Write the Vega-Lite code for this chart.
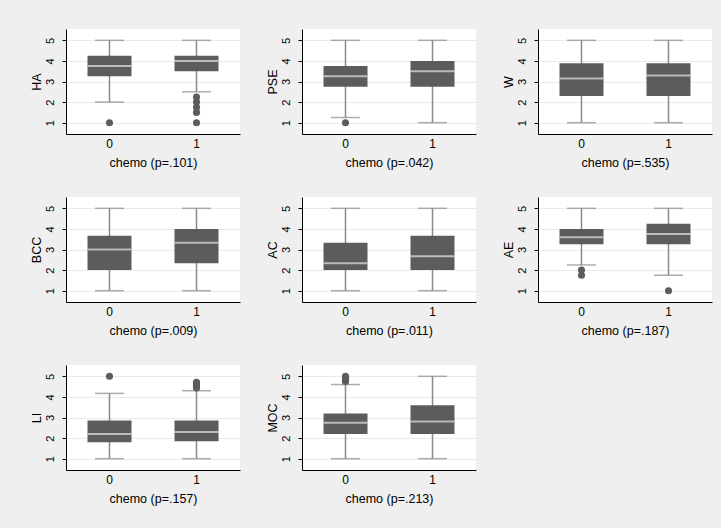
{
"$schema": "https://vega.github.io/schema/vega-lite/v6.json",
"background": "#efefef",
"padding": {"left": 30, "top": 29, "right": 10, "bottom": 24},
"datasets": {
"box": [
{"var":"HA","chemo":0,"lo":2,"q1":3.25,"med":3.75,"q3":4.25,"hi":5},
{"var":"HA","chemo":1,"lo":2.5,"q1":3.5,"med":4,"q3":4.25,"hi":5},
{"var":"HA","chemo":0,"value":1},
{"var":"HA","chemo":1,"value":2.25},
{"var":"HA","chemo":1,"value":2},
{"var":"HA","chemo":1,"value":1.75},
{"var":"HA","chemo":1,"value":1.5},
{"var":"HA","chemo":1,"value":1},
{"var":"PSE","chemo":0,"lo":1.25,"q1":2.75,"med":3.25,"q3":3.75,"hi":5},
{"var":"PSE","chemo":1,"lo":1,"q1":2.75,"med":3.5,"q3":4,"hi":5},
{"var":"PSE","chemo":0,"value":1},
{"var":"W","chemo":0,"lo":1,"q1":2.3,"med":3.14,"q3":3.89,"hi":5},
{"var":"W","chemo":1,"lo":1,"q1":2.3,"med":3.29,"q3":3.89,"hi":5},
{"var":"BCC","chemo":0,"lo":1,"q1":2,"med":3,"q3":3.67,"hi":5},
{"var":"BCC","chemo":1,"lo":1,"q1":2.33,"med":3.33,"q3":4,"hi":5},
{"var":"AC","chemo":0,"lo":1,"q1":2,"med":2.33,"q3":3.33,"hi":5},
{"var":"AC","chemo":1,"lo":1,"q1":2,"med":2.67,"q3":3.67,"hi":5},
{"var":"AE","chemo":0,"lo":2.25,"q1":3.25,"med":3.6,"q3":4,"hi":5},
{"var":"AE","chemo":1,"lo":1.75,"q1":3.25,"med":3.75,"q3":4.25,"hi":5},
{"var":"AE","chemo":0,"value":2},
{"var":"AE","chemo":0,"value":1.75},
{"var":"AE","chemo":1,"value":1},
{"var":"LI","chemo":0,"lo":1,"q1":1.8,"med":2.2,"q3":2.86,"hi":4.17},
{"var":"LI","chemo":1,"lo":1,"q1":1.85,"med":2.3,"q3":2.86,"hi":4.3},
{"var":"LI","chemo":0,"value":5},
{"var":"LI","chemo":1,"value":4.43},
{"var":"LI","chemo":1,"value":4.5},
{"var":"LI","chemo":1,"value":4.57},
{"var":"LI","chemo":1,"value":4.67},
{"var":"LI","chemo":1,"value":4.71},
{"var":"MOC","chemo":0,"lo":1,"q1":2.2,"med":2.75,"q3":3.2,"hi":4.6},
{"var":"MOC","chemo":1,"lo":1,"q1":2.2,"med":2.8,"q3":3.6,"hi":5},
{"var":"MOC","chemo":0,"value":4.75},
{"var":"MOC","chemo":0,"value":4.8},
{"var":"MOC","chemo":0,"value":4.85},
{"var":"MOC","chemo":0,"value":4.9},
{"var":"MOC","chemo":0,"value":5}
]
},
"data": {"name": "box"},
"columns": 3,
"spacing": {"row": 28, "column": 26},
"concat": [
{"transform":[{"filter":"datum.var==='HA'"}],"width":174,"height":105,
"encoding":{"x":{"field":"chemo","type":"nominal","scale":{"type":"band","paddingInner":0,"paddingOuter":0},"title":"chemo (p=.101)"}},
"layer":[
{"transform":[{"filter":"isValid(datum.med)"}],"mark":{"type":"rule","color":"#8a8a8a","strokeWidth":1.5},"encoding":{"y":{"field":"lo","type":"quantitative","scale":{"domain":[0.45,5.55],"nice":false,"zero":false},"title":"HA"},"y2":{"field":"hi"}}},
{"transform":[{"filter":"isValid(datum.med)"}],"mark":{"type":"tick","color":"#8a8a8a","size":29,"thickness":1.5},"encoding":{"y":{"field":"lo","type":"quantitative","scale":{"domain":[0.45,5.55],"nice":false,"zero":false},"title":"HA"}}},
{"transform":[{"filter":"isValid(datum.med)"}],"mark":{"type":"tick","color":"#8a8a8a","size":29,"thickness":1.5},"encoding":{"y":{"field":"hi","type":"quantitative","scale":{"domain":[0.45,5.55],"nice":false,"zero":false},"title":"HA"}}},
{"transform":[{"filter":"isValid(datum.med)"}],"mark":{"type":"bar","color":"#5c5c5c","size":44},"encoding":{"y":{"field":"q1","type":"quantitative","scale":{"domain":[0.45,5.55],"nice":false,"zero":false},"title":"HA"},"y2":{"field":"q3"}}},
{"transform":[{"filter":"isValid(datum.med)"}],"mark":{"type":"tick","color":"#e4e4e4","size":44,"thickness":2},"encoding":{"y":{"field":"med","type":"quantitative","scale":{"domain":[0.45,5.55],"nice":false,"zero":false},"title":"HA"}}},
{"transform":[{"filter":"isValid(datum.value)"}],"mark":{"type":"circle","color":"#5c5c5c","size":50,"opacity":1},"encoding":{"y":{"field":"value","type":"quantitative","scale":{"domain":[0.45,5.55],"nice":false,"zero":false},"title":"HA"}}}
]},
{"transform":[{"filter":"datum.var==='PSE'"}],"width":174,"height":105,
"encoding":{"x":{"field":"chemo","type":"nominal","scale":{"type":"band","paddingInner":0,"paddingOuter":0},"title":"chemo (p=.042)"}},
"layer":[
{"transform":[{"filter":"isValid(datum.med)"}],"mark":{"type":"rule","color":"#8a8a8a","strokeWidth":1.5},"encoding":{"y":{"field":"lo","type":"quantitative","scale":{"domain":[0.45,5.55],"nice":false,"zero":false},"title":"PSE"},"y2":{"field":"hi"}}},
{"transform":[{"filter":"isValid(datum.med)"}],"mark":{"type":"tick","color":"#8a8a8a","size":29,"thickness":1.5},"encoding":{"y":{"field":"lo","type":"quantitative","scale":{"domain":[0.45,5.55],"nice":false,"zero":false},"title":"PSE"}}},
{"transform":[{"filter":"isValid(datum.med)"}],"mark":{"type":"tick","color":"#8a8a8a","size":29,"thickness":1.5},"encoding":{"y":{"field":"hi","type":"quantitative","scale":{"domain":[0.45,5.55],"nice":false,"zero":false},"title":"PSE"}}},
{"transform":[{"filter":"isValid(datum.med)"}],"mark":{"type":"bar","color":"#5c5c5c","size":44},"encoding":{"y":{"field":"q1","type":"quantitative","scale":{"domain":[0.45,5.55],"nice":false,"zero":false},"title":"PSE"},"y2":{"field":"q3"}}},
{"transform":[{"filter":"isValid(datum.med)"}],"mark":{"type":"tick","color":"#e4e4e4","size":44,"thickness":2},"encoding":{"y":{"field":"med","type":"quantitative","scale":{"domain":[0.45,5.55],"nice":false,"zero":false},"title":"PSE"}}},
{"transform":[{"filter":"isValid(datum.value)"}],"mark":{"type":"circle","color":"#5c5c5c","size":50,"opacity":1},"encoding":{"y":{"field":"value","type":"quantitative","scale":{"domain":[0.45,5.55],"nice":false,"zero":false},"title":"PSE"}}}
]},
{"transform":[{"filter":"datum.var==='W'"}],"width":174,"height":105,
"encoding":{"x":{"field":"chemo","type":"nominal","scale":{"type":"band","paddingInner":0,"paddingOuter":0},"title":"chemo (p=.535)"}},
"layer":[
{"transform":[{"filter":"isValid(datum.med)"}],"mark":{"type":"rule","color":"#8a8a8a","strokeWidth":1.5},"encoding":{"y":{"field":"lo","type":"quantitative","scale":{"domain":[0.45,5.55],"nice":false,"zero":false},"title":"W"},"y2":{"field":"hi"}}},
{"transform":[{"filter":"isValid(datum.med)"}],"mark":{"type":"tick","color":"#8a8a8a","size":29,"thickness":1.5},"encoding":{"y":{"field":"lo","type":"quantitative","scale":{"domain":[0.45,5.55],"nice":false,"zero":false},"title":"W"}}},
{"transform":[{"filter":"isValid(datum.med)"}],"mark":{"type":"tick","color":"#8a8a8a","size":29,"thickness":1.5},"encoding":{"y":{"field":"hi","type":"quantitative","scale":{"domain":[0.45,5.55],"nice":false,"zero":false},"title":"W"}}},
{"transform":[{"filter":"isValid(datum.med)"}],"mark":{"type":"bar","color":"#5c5c5c","size":44},"encoding":{"y":{"field":"q1","type":"quantitative","scale":{"domain":[0.45,5.55],"nice":false,"zero":false},"title":"W"},"y2":{"field":"q3"}}},
{"transform":[{"filter":"isValid(datum.med)"}],"mark":{"type":"tick","color":"#e4e4e4","size":44,"thickness":2},"encoding":{"y":{"field":"med","type":"quantitative","scale":{"domain":[0.45,5.55],"nice":false,"zero":false},"title":"W"}}},
{"transform":[{"filter":"isValid(datum.value)"}],"mark":{"type":"circle","color":"#5c5c5c","size":50,"opacity":1},"encoding":{"y":{"field":"value","type":"quantitative","scale":{"domain":[0.45,5.55],"nice":false,"zero":false},"title":"W"}}}
]},
{"transform":[{"filter":"datum.var==='BCC'"}],"width":174,"height":105,
"encoding":{"x":{"field":"chemo","type":"nominal","scale":{"type":"band","paddingInner":0,"paddingOuter":0},"title":"chemo (p=.009)"}},
"layer":[
{"transform":[{"filter":"isValid(datum.med)"}],"mark":{"type":"rule","color":"#8a8a8a","strokeWidth":1.5},"encoding":{"y":{"field":"lo","type":"quantitative","scale":{"domain":[0.45,5.55],"nice":false,"zero":false},"title":"BCC"},"y2":{"field":"hi"}}},
{"transform":[{"filter":"isValid(datum.med)"}],"mark":{"type":"tick","color":"#8a8a8a","size":29,"thickness":1.5},"encoding":{"y":{"field":"lo","type":"quantitative","scale":{"domain":[0.45,5.55],"nice":false,"zero":false},"title":"BCC"}}},
{"transform":[{"filter":"isValid(datum.med)"}],"mark":{"type":"tick","color":"#8a8a8a","size":29,"thickness":1.5},"encoding":{"y":{"field":"hi","type":"quantitative","scale":{"domain":[0.45,5.55],"nice":false,"zero":false},"title":"BCC"}}},
{"transform":[{"filter":"isValid(datum.med)"}],"mark":{"type":"bar","color":"#5c5c5c","size":44},"encoding":{"y":{"field":"q1","type":"quantitative","scale":{"domain":[0.45,5.55],"nice":false,"zero":false},"title":"BCC"},"y2":{"field":"q3"}}},
{"transform":[{"filter":"isValid(datum.med)"}],"mark":{"type":"tick","color":"#e4e4e4","size":44,"thickness":2},"encoding":{"y":{"field":"med","type":"quantitative","scale":{"domain":[0.45,5.55],"nice":false,"zero":false},"title":"BCC"}}},
{"transform":[{"filter":"isValid(datum.value)"}],"mark":{"type":"circle","color":"#5c5c5c","size":50,"opacity":1},"encoding":{"y":{"field":"value","type":"quantitative","scale":{"domain":[0.45,5.55],"nice":false,"zero":false},"title":"BCC"}}}
]},
{"transform":[{"filter":"datum.var==='AC'"}],"width":174,"height":105,
"encoding":{"x":{"field":"chemo","type":"nominal","scale":{"type":"band","paddingInner":0,"paddingOuter":0},"title":"chemo (p=.011)"}},
"layer":[
{"transform":[{"filter":"isValid(datum.med)"}],"mark":{"type":"rule","color":"#8a8a8a","strokeWidth":1.5},"encoding":{"y":{"field":"lo","type":"quantitative","scale":{"domain":[0.45,5.55],"nice":false,"zero":false},"title":"AC"},"y2":{"field":"hi"}}},
{"transform":[{"filter":"isValid(datum.med)"}],"mark":{"type":"tick","color":"#8a8a8a","size":29,"thickness":1.5},"encoding":{"y":{"field":"lo","type":"quantitative","scale":{"domain":[0.45,5.55],"nice":false,"zero":false},"title":"AC"}}},
{"transform":[{"filter":"isValid(datum.med)"}],"mark":{"type":"tick","color":"#8a8a8a","size":29,"thickness":1.5},"encoding":{"y":{"field":"hi","type":"quantitative","scale":{"domain":[0.45,5.55],"nice":false,"zero":false},"title":"AC"}}},
{"transform":[{"filter":"isValid(datum.med)"}],"mark":{"type":"bar","color":"#5c5c5c","size":44},"encoding":{"y":{"field":"q1","type":"quantitative","scale":{"domain":[0.45,5.55],"nice":false,"zero":false},"title":"AC"},"y2":{"field":"q3"}}},
{"transform":[{"filter":"isValid(datum.med)"}],"mark":{"type":"tick","color":"#e4e4e4","size":44,"thickness":2},"encoding":{"y":{"field":"med","type":"quantitative","scale":{"domain":[0.45,5.55],"nice":false,"zero":false},"title":"AC"}}},
{"transform":[{"filter":"isValid(datum.value)"}],"mark":{"type":"circle","color":"#5c5c5c","size":50,"opacity":1},"encoding":{"y":{"field":"value","type":"quantitative","scale":{"domain":[0.45,5.55],"nice":false,"zero":false},"title":"AC"}}}
]},
{"transform":[{"filter":"datum.var==='AE'"}],"width":174,"height":105,
"encoding":{"x":{"field":"chemo","type":"nominal","scale":{"type":"band","paddingInner":0,"paddingOuter":0},"title":"chemo (p=.187)"}},
"layer":[
{"transform":[{"filter":"isValid(datum.med)"}],"mark":{"type":"rule","color":"#8a8a8a","strokeWidth":1.5},"encoding":{"y":{"field":"lo","type":"quantitative","scale":{"domain":[0.45,5.55],"nice":false,"zero":false},"title":"AE"},"y2":{"field":"hi"}}},
{"transform":[{"filter":"isValid(datum.med)"}],"mark":{"type":"tick","color":"#8a8a8a","size":29,"thickness":1.5},"encoding":{"y":{"field":"lo","type":"quantitative","scale":{"domain":[0.45,5.55],"nice":false,"zero":false},"title":"AE"}}},
{"transform":[{"filter":"isValid(datum.med)"}],"mark":{"type":"tick","color":"#8a8a8a","size":29,"thickness":1.5},"encoding":{"y":{"field":"hi","type":"quantitative","scale":{"domain":[0.45,5.55],"nice":false,"zero":false},"title":"AE"}}},
{"transform":[{"filter":"isValid(datum.med)"}],"mark":{"type":"bar","color":"#5c5c5c","size":44},"encoding":{"y":{"field":"q1","type":"quantitative","scale":{"domain":[0.45,5.55],"nice":false,"zero":false},"title":"AE"},"y2":{"field":"q3"}}},
{"transform":[{"filter":"isValid(datum.med)"}],"mark":{"type":"tick","color":"#e4e4e4","size":44,"thickness":2},"encoding":{"y":{"field":"med","type":"quantitative","scale":{"domain":[0.45,5.55],"nice":false,"zero":false},"title":"AE"}}},
{"transform":[{"filter":"isValid(datum.value)"}],"mark":{"type":"circle","color":"#5c5c5c","size":50,"opacity":1},"encoding":{"y":{"field":"value","type":"quantitative","scale":{"domain":[0.45,5.55],"nice":false,"zero":false},"title":"AE"}}}
]},
{"transform":[{"filter":"datum.var==='LI'"}],"width":174,"height":105,
"encoding":{"x":{"field":"chemo","type":"nominal","scale":{"type":"band","paddingInner":0,"paddingOuter":0},"title":"chemo (p=.157)"}},
"layer":[
{"transform":[{"filter":"isValid(datum.med)"}],"mark":{"type":"rule","color":"#8a8a8a","strokeWidth":1.5},"encoding":{"y":{"field":"lo","type":"quantitative","scale":{"domain":[0.45,5.55],"nice":false,"zero":false},"title":"LI"},"y2":{"field":"hi"}}},
{"transform":[{"filter":"isValid(datum.med)"}],"mark":{"type":"tick","color":"#8a8a8a","size":29,"thickness":1.5},"encoding":{"y":{"field":"lo","type":"quantitative","scale":{"domain":[0.45,5.55],"nice":false,"zero":false},"title":"LI"}}},
{"transform":[{"filter":"isValid(datum.med)"}],"mark":{"type":"tick","color":"#8a8a8a","size":29,"thickness":1.5},"encoding":{"y":{"field":"hi","type":"quantitative","scale":{"domain":[0.45,5.55],"nice":false,"zero":false},"title":"LI"}}},
{"transform":[{"filter":"isValid(datum.med)"}],"mark":{"type":"bar","color":"#5c5c5c","size":44},"encoding":{"y":{"field":"q1","type":"quantitative","scale":{"domain":[0.45,5.55],"nice":false,"zero":false},"title":"LI"},"y2":{"field":"q3"}}},
{"transform":[{"filter":"isValid(datum.med)"}],"mark":{"type":"tick","color":"#e4e4e4","size":44,"thickness":2},"encoding":{"y":{"field":"med","type":"quantitative","scale":{"domain":[0.45,5.55],"nice":false,"zero":false},"title":"LI"}}},
{"transform":[{"filter":"isValid(datum.value)"}],"mark":{"type":"circle","color":"#5c5c5c","size":50,"opacity":1},"encoding":{"y":{"field":"value","type":"quantitative","scale":{"domain":[0.45,5.55],"nice":false,"zero":false},"title":"LI"}}}
]},
{"transform":[{"filter":"datum.var==='MOC'"}],"width":174,"height":105,
"encoding":{"x":{"field":"chemo","type":"nominal","scale":{"type":"band","paddingInner":0,"paddingOuter":0},"title":"chemo (p=.213)"}},
"layer":[
{"transform":[{"filter":"isValid(datum.med)"}],"mark":{"type":"rule","color":"#8a8a8a","strokeWidth":1.5},"encoding":{"y":{"field":"lo","type":"quantitative","scale":{"domain":[0.45,5.55],"nice":false,"zero":false},"title":"MOC"},"y2":{"field":"hi"}}},
{"transform":[{"filter":"isValid(datum.med)"}],"mark":{"type":"tick","color":"#8a8a8a","size":29,"thickness":1.5},"encoding":{"y":{"field":"lo","type":"quantitative","scale":{"domain":[0.45,5.55],"nice":false,"zero":false},"title":"MOC"}}},
{"transform":[{"filter":"isValid(datum.med)"}],"mark":{"type":"tick","color":"#8a8a8a","size":29,"thickness":1.5},"encoding":{"y":{"field":"hi","type":"quantitative","scale":{"domain":[0.45,5.55],"nice":false,"zero":false},"title":"MOC"}}},
{"transform":[{"filter":"isValid(datum.med)"}],"mark":{"type":"bar","color":"#5c5c5c","size":44},"encoding":{"y":{"field":"q1","type":"quantitative","scale":{"domain":[0.45,5.55],"nice":false,"zero":false},"title":"MOC"},"y2":{"field":"q3"}}},
{"transform":[{"filter":"isValid(datum.med)"}],"mark":{"type":"tick","color":"#e4e4e4","size":44,"thickness":2},"encoding":{"y":{"field":"med","type":"quantitative","scale":{"domain":[0.45,5.55],"nice":false,"zero":false},"title":"MOC"}}},
{"transform":[{"filter":"isValid(datum.value)"}],"mark":{"type":"circle","color":"#5c5c5c","size":50,"opacity":1},"encoding":{"y":{"field":"value","type":"quantitative","scale":{"domain":[0.45,5.55],"nice":false,"zero":false},"title":"MOC"}}}
]}
],
"config": {
"font": "Liberation Sans",
"view": {"fill": "white", "stroke": null},
"axis": {"domainColor": "#000", "domainWidth": 1, "labelColor": "#000", "titleColor": "#000", "labelFontSize": 11, "titleFontSize": 12.5, "titleFontWeight": "normal"},
"axisY": {"labelAngle": -90, "tickSize": 4, "tickColor": "#000", "grid": true, "gridColor": "#eaeaea", "gridWidth": 1.2, "tickCount": 5, "labelPadding": 7, "titlePadding": 1},
"axisX": {"ticks": false, "labelAngle": 0, "grid": false, "labelPadding": 4, "titlePadding": 7, "labelFontSize": 12}
}
}
